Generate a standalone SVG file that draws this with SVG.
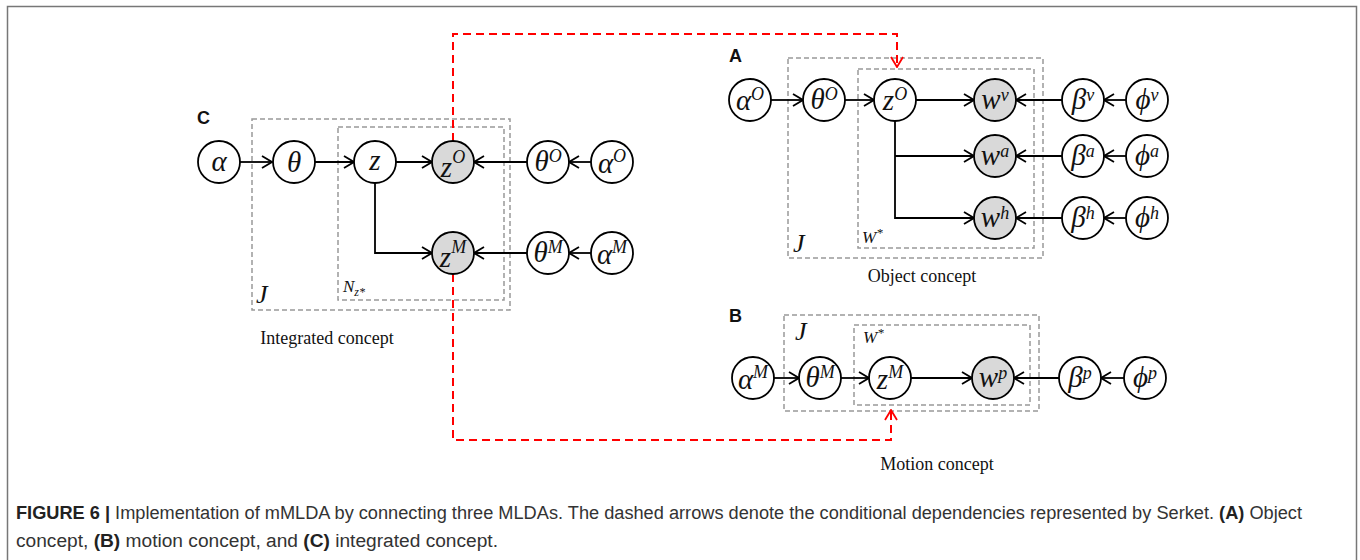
<svg xmlns="http://www.w3.org/2000/svg" width="1360" height="560" viewBox="0 0 1360 560">
<defs>
<marker id="ah" viewBox="0 0 12 14" refX="11" refY="7" markerWidth="12" markerHeight="14" markerUnits="userSpaceOnUse" orient="auto">
<path d="M1,1 L11,7 L1,13" fill="none" stroke="#000" stroke-width="1.8"/>
</marker>
<marker id="rh" viewBox="0 0 12 14" refX="11" refY="7" markerWidth="12" markerHeight="14" markerUnits="userSpaceOnUse" orient="auto">
<path d="M1,1 L11,7 L1,13" fill="none" stroke="#f00" stroke-width="1.8"/>
</marker>
</defs>
<style>
.n{fill:#fff;stroke:#000;stroke-width:1.8}
.g{fill:#d9d9d9;stroke:#000;stroke-width:1.8}
.m{font-family:"Liberation Serif",serif;font-style:italic;font-size:29px;fill:#111;text-anchor:middle}
.s{font-size:18px}
.e{fill:none;stroke:#000;stroke-width:1.8;marker-end:url(#ah)}
.r{fill:none;stroke:#f00;stroke-width:2;stroke-dasharray:8 5;marker-end:url(#rh)}
.p{fill:none;stroke:#999;stroke-width:1.5;stroke-dasharray:5 3}
.pl{font-family:"Liberation Serif",serif;font-style:italic;fill:#111}
.lab{font-family:"Liberation Sans",Arial,sans-serif;font-weight:bold;font-size:18px;fill:#111}
.t{font-family:"Liberation Serif",serif;font-size:18px;fill:#111;text-anchor:middle}
.cap{font-family:"Liberation Sans",Arial,sans-serif;font-size:18px;fill:#333}
</style>
<rect x="7.5" y="6.5" width="1349" height="600" fill="#fff" stroke="#777" stroke-width="1.5"/>

<g id="plates">
<rect class="p" x="252" y="119" width="258" height="191"/>
<rect class="p" x="338" y="127" width="166" height="173"/>
<rect class="p" x="788" y="58" width="255" height="200"/>
<rect class="p" x="858" y="69" width="176" height="179"/>
<rect class="p" x="784" y="315" width="255" height="96"/>
<rect class="p" x="854" y="325" width="176" height="80"/>
<text class="pl" x="256" y="303" font-size="26">J</text>
<text class="pl" x="343" y="292" font-size="17">N<tspan font-size="12" dy="4">z*</tspan></text>
<text class="pl" x="793" y="252" font-size="26">J</text>
<text class="pl" x="862" y="243" font-size="17">W<tspan font-size="13" dy="-6">*</tspan></text>
<text class="pl" x="795" y="340" font-size="26">J</text>
<text class="pl" x="863" y="343" font-size="17">W<tspan font-size="13" dy="-6">*</tspan></text>
</g>

<g id="connectors">
<line class="e" x1="240" y1="162" x2="272" y2="162"/>
<line class="e" x1="315" y1="162" x2="354" y2="162"/>
<line class="e" x1="396" y1="162" x2="432" y2="162"/>
<line class="e" x1="527" y1="162" x2="474" y2="162"/>
<line class="e" x1="591" y1="162" x2="569" y2="162"/>
<polyline class="e" points="375,183 375,253 432,253"/>
<line class="e" x1="527" y1="253" x2="474" y2="253"/>
<line class="e" x1="591" y1="253" x2="569" y2="253"/>

<line class="e" x1="771" y1="100" x2="803" y2="100"/>
<line class="e" x1="845" y1="100" x2="874" y2="100"/>
<line class="e" x1="916" y1="100" x2="974" y2="100"/>
<line class="e" x1="895" y1="156" x2="974" y2="156"/>
<polyline class="e" points="895,121 895,218 974,218"/>
<line class="e" x1="1062" y1="100" x2="1016" y2="100"/>
<line class="e" x1="1126" y1="100" x2="1104" y2="100"/>
<line class="e" x1="1062" y1="156" x2="1016" y2="156"/>
<line class="e" x1="1126" y1="156" x2="1104" y2="156"/>
<line class="e" x1="1062" y1="218" x2="1016" y2="218"/>
<line class="e" x1="1126" y1="218" x2="1104" y2="218"/>

<line class="e" x1="774" y1="378" x2="799" y2="378"/>
<line class="e" x1="841" y1="378" x2="869" y2="378"/>
<line class="e" x1="911" y1="378" x2="972" y2="378"/>
<line class="e" x1="1059" y1="378" x2="1014" y2="378"/>
<line class="e" x1="1124" y1="378" x2="1101" y2="378"/>

<polyline class="r" points="453,141 453,34 897,34 897,67"/>
<polyline class="r" points="453,274 453,440 891,440 891,410"/>
</g>

<g id="C-alpha"><circle class="n" cx="219" cy="162" r="21"/><text class="m" x="219" y="171">α</text></g>
<g id="C-theta"><circle class="n" cx="294" cy="162" r="21"/><text class="m" x="294" y="172">θ</text></g>
<g id="C-z"><circle class="n" cx="375" cy="162" r="21"/><text class="m" x="375" y="170">z</text></g>
<g id="C-zO"><circle class="g" cx="453" cy="162" r="21"/><text class="m" x="453" y="177">z<tspan class="s" dy="-14">O</tspan></text></g>
<g id="C-thetaO"><circle class="n" cx="548" cy="162" r="21"/><text class="m" x="548" y="171">θ<tspan class="s" dy="-9">O</tspan></text></g>
<g id="C-alphaO"><circle class="n" cx="612" cy="162" r="21"/><text class="m" x="612" y="173">α<tspan class="s" dy="-11">O</tspan></text></g>
<g id="C-zM"><circle class="g" cx="453" cy="253" r="21"/><text class="m" x="453" y="267">z<tspan class="s" dy="-14">M</tspan></text></g>
<g id="C-thetaM"><circle class="n" cx="548" cy="253" r="21"/><text class="m" x="548" y="262">θ<tspan class="s" dy="-9">M</tspan></text></g>
<g id="C-alphaM"><circle class="n" cx="612" cy="253" r="21"/><text class="m" x="612" y="264">α<tspan class="s" dy="-11">M</tspan></text></g>

<g id="A-alphaO"><circle class="n" cx="750" cy="100" r="21"/><text class="m" x="750" y="110">α<tspan class="s" dy="-10">O</tspan></text></g>
<g id="A-thetaO"><circle class="n" cx="824" cy="100" r="21"/><text class="m" x="824" y="109">θ<tspan class="s" dy="-9">O</tspan></text></g>
<g id="A-zO"><circle class="n" cx="895" cy="100" r="21"/><text class="m" x="895" y="110">z<tspan class="s" dy="-10">O</tspan></text></g>
<g id="A-wv"><circle class="g" cx="995" cy="100" r="21"/><text class="m" x="995" y="109">w<tspan class="s" dy="-8">v</tspan></text></g>
<g id="A-wa"><circle class="g" cx="995" cy="156" r="21"/><text class="m" x="995" y="165">w<tspan class="s" dy="-8">a</tspan></text></g>
<g id="A-wh"><circle class="g" cx="995" cy="218" r="21"/><text class="m" x="995" y="227">w<tspan class="s" dy="-8">h</tspan></text></g>
<g id="A-betav"><circle class="n" cx="1083" cy="100" r="21"/><text class="m" x="1083" y="109">β<tspan class="s" dy="-8">v</tspan></text></g>
<g id="A-betaa"><circle class="n" cx="1083" cy="156" r="21"/><text class="m" x="1083" y="165">β<tspan class="s" dy="-8">a</tspan></text></g>
<g id="A-betah"><circle class="n" cx="1083" cy="218" r="21"/><text class="m" x="1083" y="227">β<tspan class="s" dy="-8">h</tspan></text></g>
<g id="A-phiv"><circle class="n" cx="1147" cy="100" r="21"/><text class="m" x="1147" y="109">ϕ<tspan class="s" dy="-8">v</tspan></text></g>
<g id="A-phia"><circle class="n" cx="1147" cy="156" r="21"/><text class="m" x="1147" y="165">ϕ<tspan class="s" dy="-8">a</tspan></text></g>
<g id="A-phih"><circle class="n" cx="1147" cy="218" r="21"/><text class="m" x="1147" y="227">ϕ<tspan class="s" dy="-8">h</tspan></text></g>

<g id="B-alphaM"><circle class="n" cx="753" cy="378" r="21"/><text class="m" x="753" y="389">α<tspan class="s" dy="-11">M</tspan></text></g>
<g id="B-thetaM"><circle class="n" cx="820" cy="378" r="21"/><text class="m" x="820" y="387">θ<tspan class="s" dy="-9">M</tspan></text></g>
<g id="B-zM"><circle class="n" cx="890" cy="378" r="21"/><text class="m" x="890" y="389">z<tspan class="s" dy="-11">M</tspan></text></g>
<g id="B-wp"><circle class="g" cx="993" cy="378" r="21"/><text class="m" x="993" y="387">w<tspan class="s" dy="-8">p</tspan></text></g>
<g id="B-betap"><circle class="n" cx="1080" cy="378" r="21"/><text class="m" x="1080" y="387">β<tspan class="s" dy="-8">p</tspan></text></g>
<g id="B-phip"><circle class="n" cx="1145" cy="378" r="21"/><text class="m" x="1145" y="387">ϕ<tspan class="s" dy="-8">p</tspan></text></g>

<g id="labels">
<text class="lab" x="197" y="124">C</text>
<text class="lab" x="729" y="62">A</text>
<text class="lab" x="729" y="322">B</text>
<text class="t" x="327" y="344">Integrated concept</text>
<text class="t" x="922" y="282">Object concept</text>
<text class="t" x="937" y="470">Motion concept</text>
<text class="cap" x="16" y="519" textLength="1286" lengthAdjust="spacingAndGlyphs"><tspan font-weight="bold" fill="#222">FIGURE 6 |</tspan> Implementation of mMLDA by connecting three MLDAs. The dashed arrows denote the conditional dependencies represented by Serket. <tspan font-weight="bold" fill="#222">(A)</tspan> Object</text>
<text class="cap" x="16" y="547" textLength="482" lengthAdjust="spacingAndGlyphs">concept, <tspan font-weight="bold" fill="#222">(B)</tspan> motion concept, and <tspan font-weight="bold" fill="#222">(C)</tspan> integrated concept.</text>
</g>
</svg>
